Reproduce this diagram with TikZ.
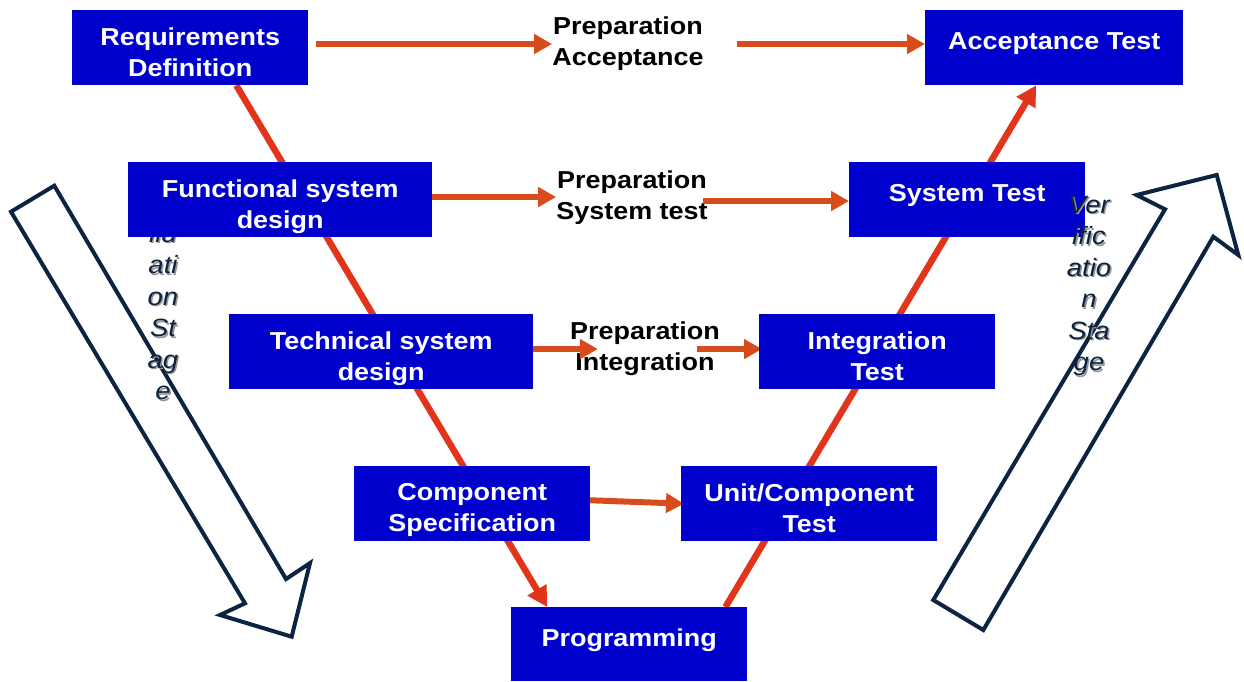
\documentclass[tikz,border=0pt]{standalone}
\usepackage{fontspec}
\setmainfont{Liberation Sans}[FakeStretch=1.1]
\usetikzlibrary{arrows.meta,calc}
\definecolor{vblue}{RGB}{0,0,204}
\definecolor{harrow}{RGB}{216,76,28}
\definecolor{vline}{RGB}{226,52,26}
\definecolor{navy}{RGB}{12,36,66}
\definecolor{shade}{RGB}{150,150,150}
\tikzset{
  boxbg/.style={fill=vblue, draw=none, anchor=north west, inner sep=0, minimum height=75},
  boxtxt/.style={font=\fontsize{24.5}{31}\selectfont\bfseries, text=white, align=center,
    anchor=north, inner sep=0, execute at begin node=\strut},
  preptxt/.style={font=\fontsize{24.5}{31}\selectfont\bfseries, text=black, align=center,
    anchor=north, inner sep=0, execute at begin node=\strut},
  harr/.style={draw=harrow, line width=6, -{Triangle[length=18pt,width=19pt]}},
  varr/.style={draw=vline, line width=6.5, -{Triangle[length=20pt,width=21pt]}},
  hollow/.style={draw=navy, fill=white, line width=4, line join=miter},
  stagetxt/.style={font=\fontsize{25}{31.5}\selectfont\itshape, text=navy, align=center,
    anchor=north, inner sep=0, execute at begin node=\strut},
  stageshadow/.style={stagetxt, text=shade},
}
\begin{document}
\begin{tikzpicture}[x=1pt,y=-1pt]
\useasboundingbox[fill=white] (0,0) rectangle (1244,681);

% hollow stage arrows
\draw[hollow] (11,211.7) -- (54.3,185.7) -- (286,579) -- (310,563) -- (291.7,636.7) -- (220,615) -- (245,603.3) -- cycle;
\draw[hollow] (933.3,600) -- (983.3,630) -- (1213.3,236.7) -- (1238.3,255) -- (1216.7,175) -- (1136.7,195) -- (1165,209.3) -- cycle;

% left stage text (partly hidden by box)
\node[stageshadow] (valS) at (164.5,195) {Va\\lid\\ati\\on\\St\\ag\\e};
\node[stagetxt] (val) at (163,193.5) {Va\\lid\\ati\\on\\St\\ag\\e};

% box geometry
\path (72,10) node[boxbg, minimum width=236, fill=none] (req) {}
      (925,10) node[boxbg, minimum width=258, fill=none] (acc) {}
      (128,162) node[boxbg, minimum width=304, fill=none] (fun) {}
      (849,162) node[boxbg, minimum width=236, fill=none] (sys) {}
      (229,314) node[boxbg, minimum width=304, fill=none] (tec) {}
      (759,314) node[boxbg, minimum width=236, fill=none] (int) {}
      (354,466) node[boxbg, minimum width=236, fill=none] (com) {}
      (681,466) node[boxbg, minimum width=256, fill=none] (uni) {}
      (511,607) node[boxbg, minimum width=236, minimum height=74, fill=none] (pro) {};

% V lines
\draw[varr] ($(req.south west)!0.695!(req.south east)$) -- ($(pro.north west)!0.153!(pro.north east)$);
\draw[varr] ($(pro.north west)!0.907!(pro.north east)$) -- ($(acc.south west)!0.43!(acc.south east)$);

% preparation labels
\node[preptxt] (prepA) at (628,16.3) {Preparation\\Acceptance};
\node[preptxt] (prepS) at (632,170.3) {Preparation\\System test};
\node[preptxt] (prepI) at (645,321.3) {Preparation\\Integration};

% horizontal arrows
\draw[harr] ($(req.east |- prepA.west)+(8,-1.5)$) -- ($(prepA.west)+(0,-1.5)$);
\draw[harr] ($(prepA.east)+(33,-1.5)$) -- ($(acc.west |- prepA.east)+(0,-1.5)$);
\draw[harr] ($(fun.east |- prepS.west)+(0,-2.5)$) -- ($(prepS.west)+(0,-2.5)$);
\draw[harr] ($(prepS.east)+(-5,1.5)$) -- ($(sys.west |- prepS.east)+(0,1.5)$);
\draw[harr] ($(tec.east |- prepI.west)+(0,-1.5)$) -- ($(prepI.west)+(28,-1.5)$);
\draw[harr] ($(prepI.east)+(-23,-1.5)$) -- ($(int.west |- prepI.east)+(3,-1.5)$);
\draw[harr] ($(com.east)+(-2,-3.5)$) -- ($(uni.west)+(3,0)$);

% boxes
\fill[vblue] (req.north west) rectangle (req.south east);
\fill[vblue] (acc.north west) rectangle (acc.south east);
\fill[vblue] (fun.north west) rectangle (fun.south east);
\fill[vblue] (sys.north west) rectangle (sys.south east);
\fill[vblue] (tec.north west) rectangle (tec.south east);
\fill[vblue] (int.north west) rectangle (int.south east);
\fill[vblue] (com.north west) rectangle (com.south east);
\fill[vblue] (uni.north west) rectangle (uni.south east);
\fill[vblue] (pro.north west) rectangle (pro.south east);

% box texts, clipped to their boxes
\begin{scope}\clip (req.north west) rectangle (req.south east);
\node[boxtxt] (reqT) at ($(req.north)+(0,17.3)$) {Requirements\\Definition};\end{scope}
\begin{scope}\clip (acc.north west) rectangle (acc.south east);
\node[boxtxt] (accT) at ($(acc.north)+(0,17.3)$) {Acceptance Test};\end{scope}
\begin{scope}\clip (fun.north west) rectangle (fun.south east);
\node[boxtxt] (funT) at ($(fun.north)+(0,17.3)$) {Functional system\\design};\end{scope}
\begin{scope}\clip (sys.north west) rectangle (sys.south east);
\node[boxtxt] (sysT) at ($(sys.north)+(0,17.3)$) {System Test};\end{scope}
\begin{scope}\clip (tec.north west) rectangle (tec.south east);
\node[boxtxt] (tecT) at ($(tec.north)+(0,17.3)$) {Technical system\\design};\end{scope}
\begin{scope}\clip (int.north west) rectangle (int.south east);
\node[boxtxt] (intT) at ($(int.north)+(0,17.3)$) {Integration\\Test};\end{scope}
\begin{scope}\clip (com.north west) rectangle (com.south east);
\node[boxtxt] (comT) at ($(com.north)+(0,17.3)$) {Component\\Specification};\end{scope}
\begin{scope}\clip (uni.north west) rectangle (uni.south east);
\node[boxtxt] (uniT) at ($(uni.north)+(0,17.3)$) {Unit/Component\\Test};\end{scope}
\begin{scope}\clip (pro.north west) rectangle (pro.south east);
\node[boxtxt] (proT) at ($(pro.north)+(0,17.3)$) {Programming};\end{scope}

% right stage text (drawn over the box)
\node[stageshadow] (verS) at (1090.5,197.2) {Ver\\ific\\atio\\n\\Sta\\ge};
\node[stagetxt] (ver) at (1089,195.7) {Ver\\ific\\atio\\n\\Sta\\ge};
\end{tikzpicture}
\end{document}
